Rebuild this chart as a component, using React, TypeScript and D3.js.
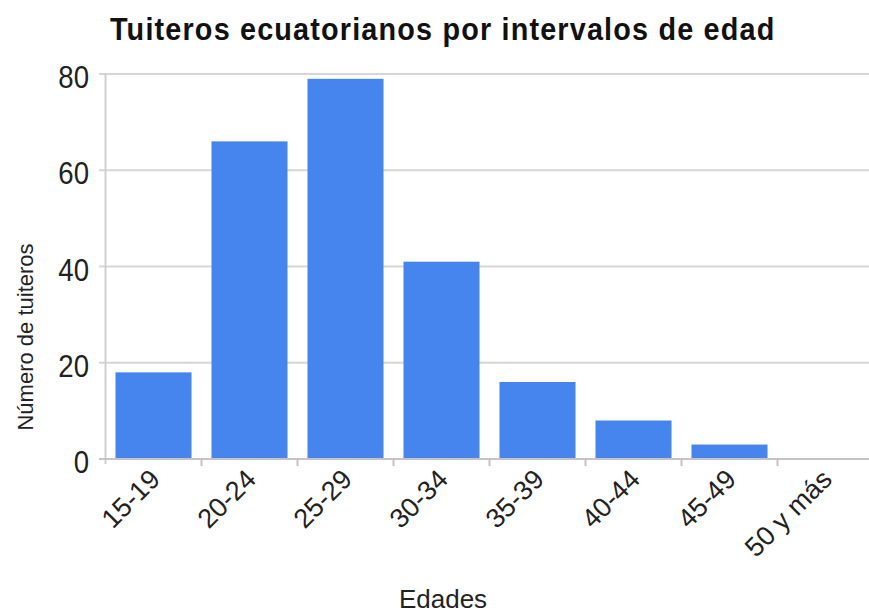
import React from "react";
import * as d3 from "d3";

const categories = ["15-19", "20-24", "25-29", "30-34", "35-39", "40-44", "45-49", "50 y más"];
const values = [18, 66, 79, 41, 16, 8, 3, 0];
const yTicks = [0, 20, 40, 60, 80];
const title = "Tuiteros ecuatorianos por intervalos de edad";
const xTitle = "Edades";
const yTitle = "Número de tuiteros";

const W = 869;
const H = 615;
const FONT = "'Liberation Sans', Arial, sans-serif";

export default function App() {
  const x = d3
    .scaleBand<string>()
    .domain(categories)
    .range([105.5, 873.5])
    .paddingInner(0.208)
    .paddingOuter(0.104);
  const y = d3.scaleLinear().domain([0, 80]).range([459, 74]);
  const step = x.step();
  const left = x.range()[0];

  return (
    <svg
      width={W}
      height={H}
      style={{ position: "absolute", left: 0, top: 0, background: "#fff" }}
      fontFamily={FONT}
    >
      <rect x={0} y={0} width={W} height={H} fill="#fff" />
      <text
        transform="translate(110,40) scale(0.9,1)"
        fontSize={32}
        fontWeight="bold"
        letterSpacing={1.3}
        fill="#111"
      >
        {title}
      </text>
      {/* gridlines */}
      {yTicks.filter((t) => t !== 0).map((t) => (
        <line key={t} x1={99} x2={W} y1={y(t)} y2={y(t)} stroke="#d6d6d6" strokeWidth={2} />
      ))}
      {/* y axis line */}
      <line x1={left} x2={left} y1={y(80) - 1} y2={y(0) + 5} stroke="#d0d0d0" strokeWidth={2} />
      {/* bars */}
      {categories.map((c, i) => (
        <rect
          key={c}
          x={x(c)}
          y={y(values[i])}
          width={x.bandwidth()}
          height={y(0) - y(values[i])}
          fill="#4684ee"
        />
      ))}
      {/* baseline */}
      <line x1={99} x2={W} y1={y(0)} y2={y(0)} stroke="#c4c4c4" strokeWidth={2} />
      {/* x category ticks */}
      {categories.slice(1).map((c, i) => (
        <line
          key={c}
          x1={left + step * (i + 1)}
          x2={left + step * (i + 1)}
          y1={y(0)}
          y2={y(0) + 7}
          stroke="#c4c4c4"
          strokeWidth={2}
        />
      ))}
      {/* y tick labels */}
      {yTicks.map((t) => (
        <text
          key={t}
          transform={`translate(89,${y(t) + 14}) scale(0.92,1.05)`}
          fontSize={30}
          textAnchor="end"
          fill="#222"
        >
          {t}
        </text>
      ))}
      {/* x tick labels */}
      {categories.map((c) => {
        const cx = (x(c) as number) + x.bandwidth() / 2 + 8;
        const cy = 481;
        return (
          <text
            key={c}
            x={0}
            y={0}
            transform={`translate(${cx},${cy}) rotate(-45)`}
            fontSize={27}
            textAnchor="end"
            fill="#222"
          >
            {c}
          </text>
        );
      })}
      <text x={443} y={608} fontSize={26} textAnchor="middle" fill="#222">
        {xTitle}
      </text>
      <text
        transform={`translate(33,337) rotate(-90)`}
        fontSize={22}
        textAnchor="middle"
        fill="#222"
      >
        {yTitle}
      </text>
    </svg>
  );
}
